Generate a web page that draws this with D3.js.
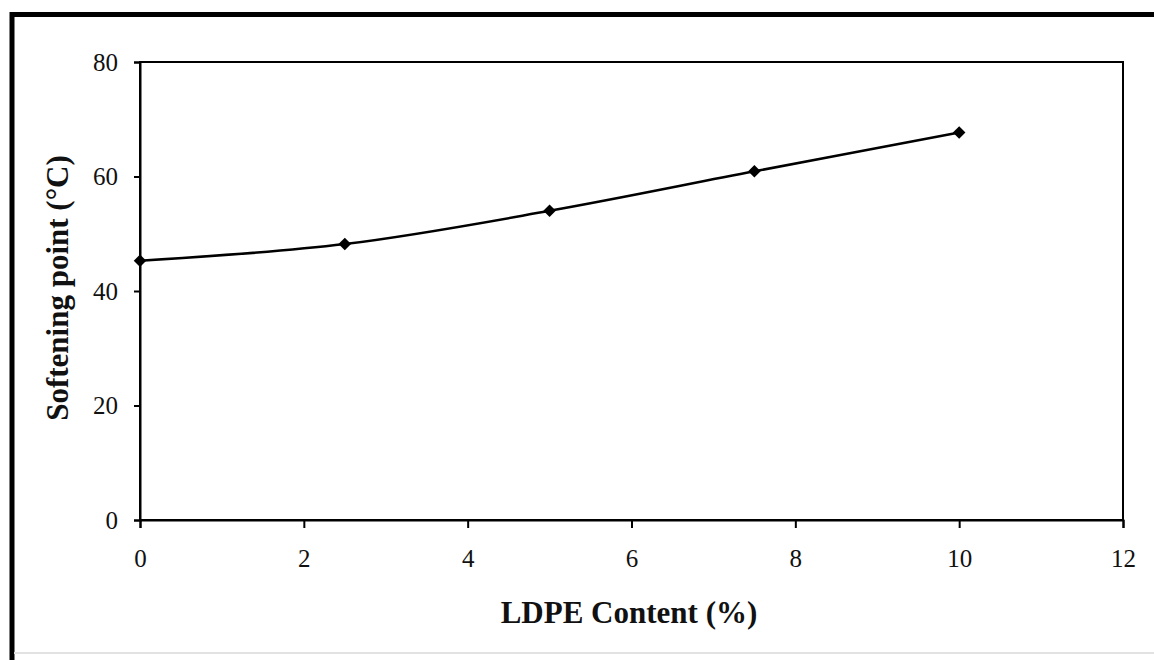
<!DOCTYPE html>
<html><head><meta charset="utf-8">
<script src="https://cdn.jsdelivr.net/npm/d3@7"></script>
<style>body{margin:0;background:#fff}svg{display:block}</style>
</head><body>
<svg id="c" width="1154" height="660"></svg>
<script>
const xValues = [0, 2.5, 5, 7.5, 10];
const yValues = [45.3, 48.2, 54.0, 60.9, 67.7];
const xTicks = [0, 2, 4, 6, 8, 10, 12];
const yTicks = [0, 20, 40, 60, 80];
const xTitle = "LDPE Content (%)";
const yTitle = "Softening point (°C)";

const svg = d3.select("#c");
const font = "'Liberation Serif','Times New Roman',serif";
// outer frame
svg.append("line").attr("x1",12).attr("x2",1154).attr("y1",14.5).attr("y2",14.5).attr("stroke","#000").attr("stroke-width",5);
svg.append("line").attr("x1",12).attr("x2",12).attr("y1",12).attr("y2",660).attr("stroke","#000").attr("stroke-width",5);
svg.append("line").attr("x1",14).attr("x2",1154).attr("y1",653).attr("y2",653).attr("stroke","#e2e2e2").attr("stroke-width",2);

const L=140,R=1123,T=62,B=520;
const x = d3.scaleLinear().domain([0,12]).range([L,R]);
const y = d3.scaleLinear().domain([0,80]).range([B,T]);

svg.append("rect").attr("x",L).attr("y",T).attr("width",R-L).attr("height",B-T).attr("fill","none").attr("stroke","#000").attr("stroke-width",2);

const xa = svg.append("g").attr("transform",`translate(0,${B})`)
  .call(d3.axisBottom(x).tickValues(xTicks).tickSize(8).tickPadding(21).tickFormat(d3.format("d")));
const ya = svg.append("g").attr("transform",`translate(${L},0)`)
  .call(d3.axisLeft(y).tickValues(yTicks).tickSize(6).tickPadding(16).tickFormat(d3.format("d")));
[xa,ya].forEach(a=>{
  a.attr("font-size",null).attr("font-family",null);
  a.select(".domain").attr("stroke","#000").attr("stroke-width",2);
  a.selectAll(".tick line").attr("stroke","#000").attr("stroke-width",2);
  a.selectAll("text").attr("font-family",font).style("font-size","25px").attr("fill","#111");
});

const pts = xValues.map((v,i)=>[v,yValues[i]]);
svg.append("path").datum(pts)
  .attr("d", d3.line().x(d=>x(d[0])).y(d=>y(d[1])).curve(d3.curveCatmullRom.alpha(0.5)))
  .attr("fill","none").attr("stroke","#000").attr("stroke-width",2.5);
svg.selectAll(".m").data(pts).enter().append("path")
  .attr("transform",d=>`translate(${x(d[0])},${y(d[1])})`)
  .attr("d", d3.symbol(d3.symbolDiamond2, 100)).attr("fill","#000");

svg.append("text").attr("x",629).attr("y",623).attr("text-anchor","middle")
  .attr("font-family",font).attr("font-weight","bold").style("font-size","31px").attr("fill","#111").text(xTitle);
svg.append("text").attr("transform","translate(68,288) rotate(-90)").attr("text-anchor","middle")
  .attr("font-family",font).attr("font-weight","bold").style("font-size","31px").attr("fill","#111").text(yTitle);
</script>
</body></html>
